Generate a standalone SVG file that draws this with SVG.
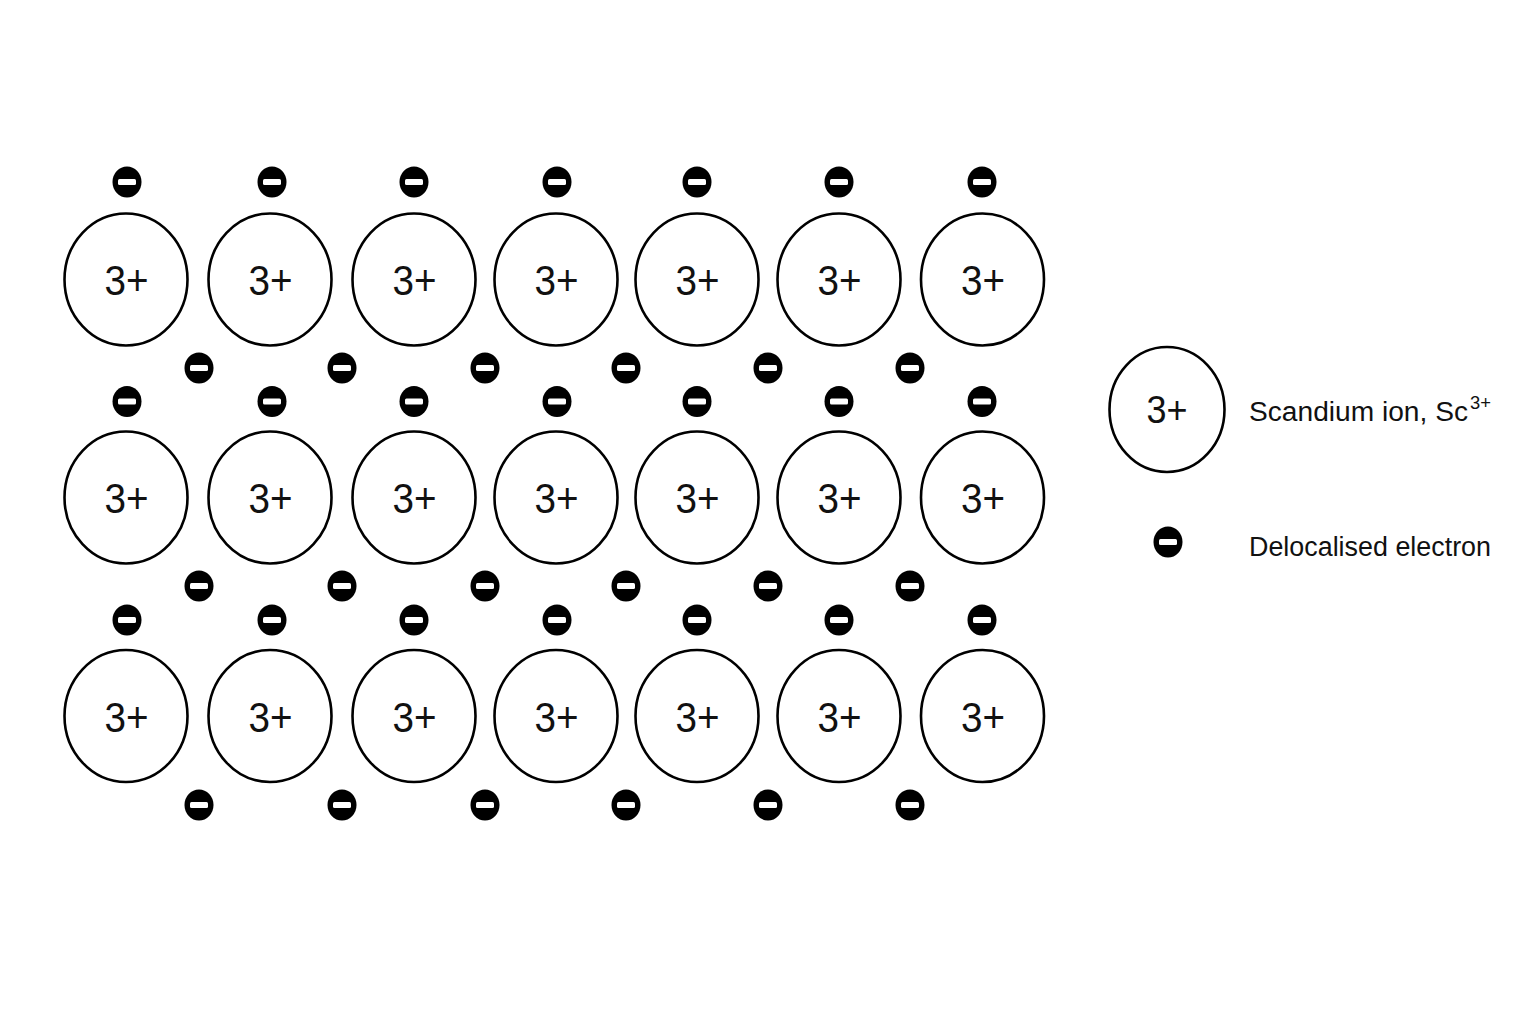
<svg xmlns="http://www.w3.org/2000/svg" xmlns:xlink="http://www.w3.org/1999/xlink" width="1536" height="1024" viewBox="0 0 1536 1024">
<style>
.ion{fill:#fff;stroke:#000;stroke-width:2.6}
.lbl{font-family:"Liberation Sans",Arial,sans-serif;font-size:43px;fill:#111;text-anchor:middle}
.leg{font-family:"Liberation Sans",Arial,sans-serif;font-size:27px;fill:#111}
</style>
<defs>
<g id="e">
<ellipse cx="0" cy="0" rx="14.5" ry="15.5" fill="#000"/>
<rect x="-9" y="-3" width="18" height="6" rx="1.5" fill="#fff"/>
</g>
</defs>
<rect width="1536" height="1024" fill="#fff"/>
<g id="ions">
<g id="ion-r1c1"><ellipse class="ion" cx="126" cy="279.5" rx="61.5" ry="66"/><text class="lbl" x="126.5" y="295" textLength="44" lengthAdjust="spacingAndGlyphs">3+</text></g>
<g id="ion-r1c2"><ellipse class="ion" cx="270" cy="279.5" rx="61.5" ry="66"/><text class="lbl" x="270.5" y="295" textLength="44" lengthAdjust="spacingAndGlyphs">3+</text></g>
<g id="ion-r1c3"><ellipse class="ion" cx="414" cy="279.5" rx="61.5" ry="66"/><text class="lbl" x="414.5" y="295" textLength="44" lengthAdjust="spacingAndGlyphs">3+</text></g>
<g id="ion-r1c4"><ellipse class="ion" cx="556" cy="279.5" rx="61.5" ry="66"/><text class="lbl" x="556.5" y="295" textLength="44" lengthAdjust="spacingAndGlyphs">3+</text></g>
<g id="ion-r1c5"><ellipse class="ion" cx="697" cy="279.5" rx="61.5" ry="66"/><text class="lbl" x="697.5" y="295" textLength="44" lengthAdjust="spacingAndGlyphs">3+</text></g>
<g id="ion-r1c6"><ellipse class="ion" cx="839" cy="279.5" rx="61.5" ry="66"/><text class="lbl" x="839.5" y="295" textLength="44" lengthAdjust="spacingAndGlyphs">3+</text></g>
<g id="ion-r1c7"><ellipse class="ion" cx="982.5" cy="279.5" rx="61.5" ry="66"/><text class="lbl" x="983" y="295" textLength="44" lengthAdjust="spacingAndGlyphs">3+</text></g>
<g id="ion-r2c1"><ellipse class="ion" cx="126" cy="497.5" rx="61.5" ry="66"/><text class="lbl" x="126.5" y="513" textLength="44" lengthAdjust="spacingAndGlyphs">3+</text></g>
<g id="ion-r2c2"><ellipse class="ion" cx="270" cy="497.5" rx="61.5" ry="66"/><text class="lbl" x="270.5" y="513" textLength="44" lengthAdjust="spacingAndGlyphs">3+</text></g>
<g id="ion-r2c3"><ellipse class="ion" cx="414" cy="497.5" rx="61.5" ry="66"/><text class="lbl" x="414.5" y="513" textLength="44" lengthAdjust="spacingAndGlyphs">3+</text></g>
<g id="ion-r2c4"><ellipse class="ion" cx="556" cy="497.5" rx="61.5" ry="66"/><text class="lbl" x="556.5" y="513" textLength="44" lengthAdjust="spacingAndGlyphs">3+</text></g>
<g id="ion-r2c5"><ellipse class="ion" cx="697" cy="497.5" rx="61.5" ry="66"/><text class="lbl" x="697.5" y="513" textLength="44" lengthAdjust="spacingAndGlyphs">3+</text></g>
<g id="ion-r2c6"><ellipse class="ion" cx="839" cy="497.5" rx="61.5" ry="66"/><text class="lbl" x="839.5" y="513" textLength="44" lengthAdjust="spacingAndGlyphs">3+</text></g>
<g id="ion-r2c7"><ellipse class="ion" cx="982.5" cy="497.5" rx="61.5" ry="66"/><text class="lbl" x="983" y="513" textLength="44" lengthAdjust="spacingAndGlyphs">3+</text></g>
<g id="ion-r3c1"><ellipse class="ion" cx="126" cy="716" rx="61.5" ry="66"/><text class="lbl" x="126.5" y="731.5" textLength="44" lengthAdjust="spacingAndGlyphs">3+</text></g>
<g id="ion-r3c2"><ellipse class="ion" cx="270" cy="716" rx="61.5" ry="66"/><text class="lbl" x="270.5" y="731.5" textLength="44" lengthAdjust="spacingAndGlyphs">3+</text></g>
<g id="ion-r3c3"><ellipse class="ion" cx="414" cy="716" rx="61.5" ry="66"/><text class="lbl" x="414.5" y="731.5" textLength="44" lengthAdjust="spacingAndGlyphs">3+</text></g>
<g id="ion-r3c4"><ellipse class="ion" cx="556" cy="716" rx="61.5" ry="66"/><text class="lbl" x="556.5" y="731.5" textLength="44" lengthAdjust="spacingAndGlyphs">3+</text></g>
<g id="ion-r3c5"><ellipse class="ion" cx="697" cy="716" rx="61.5" ry="66"/><text class="lbl" x="697.5" y="731.5" textLength="44" lengthAdjust="spacingAndGlyphs">3+</text></g>
<g id="ion-r3c6"><ellipse class="ion" cx="839" cy="716" rx="61.5" ry="66"/><text class="lbl" x="839.5" y="731.5" textLength="44" lengthAdjust="spacingAndGlyphs">3+</text></g>
<g id="ion-r3c7"><ellipse class="ion" cx="982.5" cy="716" rx="61.5" ry="66"/><text class="lbl" x="983" y="731.5" textLength="44" lengthAdjust="spacingAndGlyphs">3+</text></g>
</g>
<g id="electrons">
<g id="e-a1"><use xlink:href="#e" href="#e" x="127" y="182"/></g>
<g id="e-a2"><use xlink:href="#e" href="#e" x="272" y="182"/></g>
<g id="e-a3"><use xlink:href="#e" href="#e" x="414" y="182"/></g>
<g id="e-a4"><use xlink:href="#e" href="#e" x="557" y="182"/></g>
<g id="e-a5"><use xlink:href="#e" href="#e" x="697" y="182"/></g>
<g id="e-a6"><use xlink:href="#e" href="#e" x="839" y="182"/></g>
<g id="e-a7"><use xlink:href="#e" href="#e" x="982" y="182"/></g>
<g id="e-b1"><use xlink:href="#e" href="#e" x="199" y="368"/></g>
<g id="e-b2"><use xlink:href="#e" href="#e" x="342" y="368"/></g>
<g id="e-b3"><use xlink:href="#e" href="#e" x="485" y="368"/></g>
<g id="e-b4"><use xlink:href="#e" href="#e" x="626" y="368"/></g>
<g id="e-b5"><use xlink:href="#e" href="#e" x="768" y="368"/></g>
<g id="e-b6"><use xlink:href="#e" href="#e" x="910" y="368"/></g>
<g id="e-c1"><use xlink:href="#e" href="#e" x="127" y="401.5"/></g>
<g id="e-c2"><use xlink:href="#e" href="#e" x="272" y="401.5"/></g>
<g id="e-c3"><use xlink:href="#e" href="#e" x="414" y="401.5"/></g>
<g id="e-c4"><use xlink:href="#e" href="#e" x="557" y="401.5"/></g>
<g id="e-c5"><use xlink:href="#e" href="#e" x="697" y="401.5"/></g>
<g id="e-c6"><use xlink:href="#e" href="#e" x="839" y="401.5"/></g>
<g id="e-c7"><use xlink:href="#e" href="#e" x="982" y="401.5"/></g>
<g id="e-d1"><use xlink:href="#e" href="#e" x="199" y="586"/></g>
<g id="e-d2"><use xlink:href="#e" href="#e" x="342" y="586"/></g>
<g id="e-d3"><use xlink:href="#e" href="#e" x="485" y="586"/></g>
<g id="e-d4"><use xlink:href="#e" href="#e" x="626" y="586"/></g>
<g id="e-d5"><use xlink:href="#e" href="#e" x="768" y="586"/></g>
<g id="e-d6"><use xlink:href="#e" href="#e" x="910" y="586"/></g>
<g id="e-f1"><use xlink:href="#e" href="#e" x="127" y="620"/></g>
<g id="e-f2"><use xlink:href="#e" href="#e" x="272" y="620"/></g>
<g id="e-f3"><use xlink:href="#e" href="#e" x="414" y="620"/></g>
<g id="e-f4"><use xlink:href="#e" href="#e" x="557" y="620"/></g>
<g id="e-f5"><use xlink:href="#e" href="#e" x="697" y="620"/></g>
<g id="e-f6"><use xlink:href="#e" href="#e" x="839" y="620"/></g>
<g id="e-f7"><use xlink:href="#e" href="#e" x="982" y="620"/></g>
<g id="e-g1"><use xlink:href="#e" href="#e" x="199" y="805"/></g>
<g id="e-g2"><use xlink:href="#e" href="#e" x="342" y="805"/></g>
<g id="e-g3"><use xlink:href="#e" href="#e" x="485" y="805"/></g>
<g id="e-g4"><use xlink:href="#e" href="#e" x="626" y="805"/></g>
<g id="e-g5"><use xlink:href="#e" href="#e" x="768" y="805"/></g>
<g id="e-g6"><use xlink:href="#e" href="#e" x="910" y="805"/></g>
</g>
<g id="legend">
<g id="legend-ion">
<ellipse class="ion" cx="1167" cy="409.5" rx="57.5" ry="62.5"/>
<text class="lbl" x="1167" y="423" style="font-size:39px" textLength="41" lengthAdjust="spacingAndGlyphs">3+</text>
<text class="leg" x="1249" y="421" textLength="219" lengthAdjust="spacingAndGlyphs">Scandium ion, Sc</text>
<text class="leg" x="1470" y="409" style="font-size:19px" textLength="21" lengthAdjust="spacingAndGlyphs">3+</text>
</g>
<g id="legend-electron">
<use xlink:href="#e" href="#e" x="1168" y="542"/>
<text class="leg" x="1249" y="556" textLength="242" lengthAdjust="spacingAndGlyphs">Delocalised electron</text>
</g>
</g>
</svg>
